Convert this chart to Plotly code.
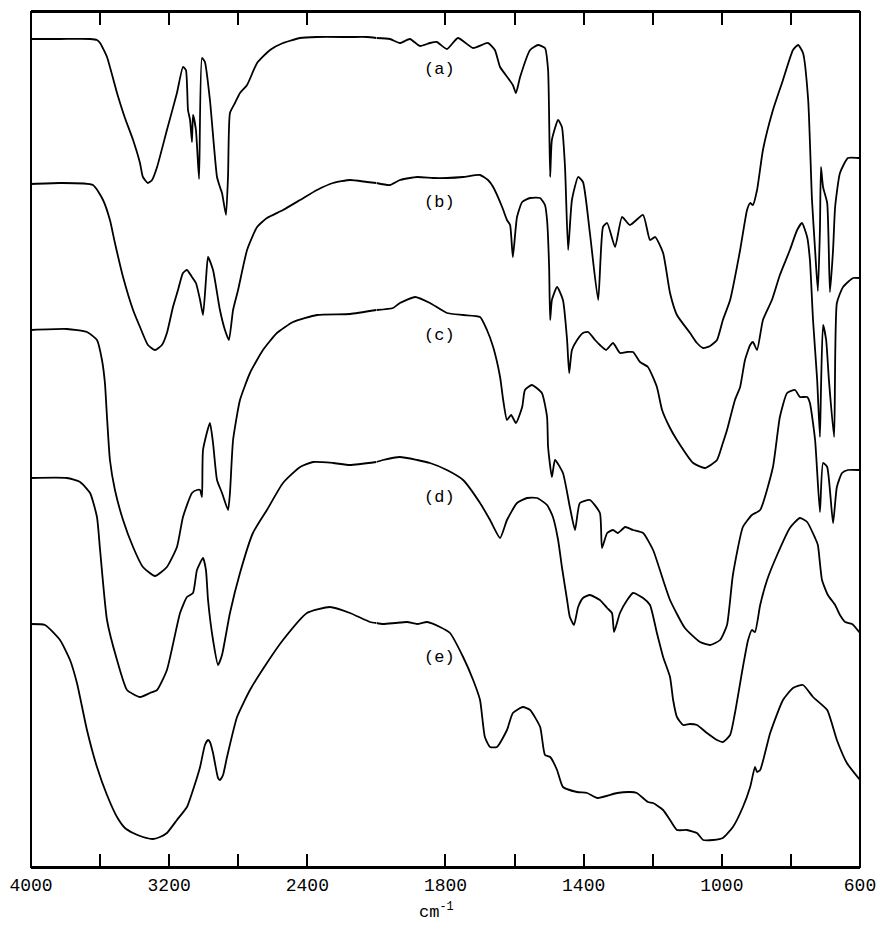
import plotly.graph_objects as go

# IR spectra (a)-(e): wavenumber (cm-1) and offset transmittance (arbitrary units)
A_WN = [4000, 3832, 3658, 3618, 3600, 3560, 3502, 3456, 3409, 3369, 3352, 3323, 3299, 3270, 3213, 3155, 3120, 3103, 3091, 3079, 3068, 3062, 3045, 3027, 3010, 2993, 2964, 2923, 2906, 2894, 2871, 2859, 2848, 2819, 2790, 2749, 2691, 2616, 2541, 2442, 2344, 2153, 2055, 2000,
        1961, 1932, 1903, 1874, 1845, 1825, 1796, 1764, 1720, 1677, 1657, 1642, 1619, 1605, 1596, 1584, 1555, 1532, 1512, 1503, 1497, 1492, 1474, 1463, 1454, 1445, 1434, 1416, 1402, 1382, 1358, 1344, 1332, 1309, 1289, 1266, 1228, 1208, 1193, 1170, 1150, 1130, 1092, 1072, 1054, 1034, 1014, 997, 976, 947, 927, 918, 910, 898, 881, 852, 823, 794, 779, 765, 750, 739, 730, 722, 716, 713, 707, 695, 687, 678, 672, 658, 635, 606, 600]
A_T = [828, 828, 828, 827, 824, 810, 774, 749, 727, 704, 690, 684, 687, 700, 737, 774, 800, 797, 757, 747, 725, 752, 737, 688, 809, 805, 767, 690, 680, 674, 652, 692, 754, 764, 774, 782, 804, 817, 824, 829, 830, 830, 830, 829,
       828, 824, 828, 821, 824, 825, 818, 829, 819, 824, 817, 800, 789, 782, 774, 790, 817, 822, 819, 797, 690, 727, 747, 740, 700, 617, 667, 690, 685, 634, 567, 640, 644, 620, 650, 642, 652, 627, 630, 614, 574, 552, 534, 524, 519, 521, 527, 547, 567, 617, 657, 664, 662, 677, 717, 757, 787, 817, 822, 814, 767, 667, 617, 576, 637, 700, 680, 664, 575, 617, 660, 694, 709, 709, 709]

B_WN = [4000, 3832, 3641, 3583, 3543, 3514, 3467, 3409, 3369, 3323, 3282, 3242, 3213, 3178, 3149, 3120, 3097, 3068, 3045, 3021, 3004, 2987, 2975, 2946, 2906, 2877, 2854, 2830, 2801, 2749, 2691, 2634, 2541, 2442, 2344, 2251, 2153, 2055, 2000,
        1961, 1932, 1882, 1836, 1796, 1749, 1700, 1677, 1662, 1636, 1622, 1613, 1605, 1593, 1578, 1555, 1526, 1512, 1506, 1500, 1497, 1492, 1477, 1460, 1448, 1442, 1434, 1419, 1402, 1387, 1367, 1353, 1335, 1315, 1295, 1274, 1257, 1237, 1214, 1188, 1173, 1150, 1130, 1083, 1049, 1014, 997, 985, 962, 947, 933, 918, 910, 898, 881, 855, 832, 803, 782, 768, 753, 745, 736, 724, 716, 713, 707, 698, 690, 675, 667, 649, 620, 600]
B_T = [683, 684, 682, 667, 647, 624, 590, 557, 540, 522, 517, 522, 534, 560, 577, 594, 597, 590, 584, 567, 552, 587, 610, 597, 557, 537, 527, 557, 577, 617, 640, 649, 657, 667, 677, 684, 687, 685, 684,
       682, 687, 690, 689, 689, 690, 692, 687, 680, 660, 647, 642, 610, 650, 665, 669, 669, 662, 647, 600, 547, 567, 580, 567, 527, 494, 517, 527, 534, 535, 527, 522, 517, 524, 514, 515, 515, 505, 500, 480, 457, 439, 427, 404, 399, 407, 424, 437, 467, 480, 507, 522, 525, 517, 547, 567, 592, 617, 637, 644, 630, 607, 547, 487, 430, 477, 542, 527, 487, 430, 564, 580, 589, 589]

C_WN = [4000, 3792, 3676, 3618, 3589, 3572, 3560, 3543, 3514, 3467, 3409, 3352, 3282, 3213, 3155, 3120, 3068, 3039, 3021, 3010, 3004, 2964, 2946, 2923, 2894, 2859, 2848, 2830, 2790, 2732, 2657, 2576, 2483, 2344, 2153, 2000,
        1952, 1932, 1888, 1845, 1796, 1749, 1700, 1680, 1662, 1642, 1633, 1622, 1610, 1596, 1578, 1570, 1550, 1521, 1506, 1503, 1492, 1483, 1460, 1440, 1425, 1411, 1382, 1353, 1347, 1332, 1315, 1301, 1280, 1257, 1228, 1199, 1170, 1150, 1107, 1063, 1034, 1005, 985, 968, 939, 913, 889, 852, 832, 811, 788, 774, 753, 745, 730, 716, 707, 695, 678, 667, 652, 635, 600]
C_T = [537, 538, 535, 527, 507, 484, 450, 407, 377, 347, 320, 300, 291, 300, 320, 350, 374, 377, 377, 370, 417, 444, 424, 387, 374, 357, 374, 427, 467, 494, 517, 534, 545, 552, 553, 557,
       559, 564, 570, 564, 554, 552, 550, 537, 520, 490, 467, 447, 452, 444, 460, 477, 482, 474, 450, 420, 390, 407, 394, 360, 337, 364, 367, 354, 319, 334, 337, 334, 340, 337, 334, 317, 287, 267, 239, 225, 222, 227, 242, 292, 340, 352, 357, 400, 450, 474, 477, 470, 470, 464, 427, 355, 404, 400, 344, 380, 394, 397, 397]

D_WN = [4000, 3792, 3716, 3658, 3618, 3600, 3560, 3502, 3444, 3369, 3311, 3270, 3213, 3137, 3097, 3062, 3039, 3004, 2987, 2975, 2946, 2917, 2894, 2848, 2790, 2715, 2634, 2541, 2442, 2367, 2251, 2153, 2000,
        1981, 1932, 1882, 1845, 1796, 1749, 1700, 1671, 1642, 1622, 1593, 1564, 1535, 1506, 1489, 1474, 1463, 1448, 1440, 1428, 1416, 1402, 1382, 1353, 1332, 1318, 1312, 1295, 1274, 1257, 1228, 1208, 1188, 1170, 1150, 1141, 1130, 1112, 1092, 1072, 1043, 1014, 997, 976, 962, 939, 924, 913, 904, 889, 869, 840, 803, 774, 753, 730, 722, 710, 693, 672, 658, 643, 623, 600]
D_T = [389, 389, 385, 374, 350, 317, 247, 207, 177, 170, 174, 177, 197, 254, 270, 274, 297, 309, 297, 267, 227, 202, 212, 254, 294, 334, 357, 384, 400, 405, 404, 402, 405,
       407, 410, 407, 404, 397, 387, 364, 347, 329, 347, 364, 369, 369, 362, 350, 327, 300, 267, 250, 242, 260, 269, 272, 267, 259, 254, 235, 254, 267, 274, 269, 262, 234, 210, 190, 167, 150, 142, 143, 142, 134, 127, 125, 132, 154, 200, 227, 237, 235, 262, 287, 312, 339, 349, 345, 329, 322, 287, 272, 262, 252, 245, 243, 234]

E_WN = [4000, 3919, 3832, 3774, 3734, 3676, 3618, 3560, 3502, 3456, 3409, 3352, 3294, 3253, 3213, 3155, 3097, 3062, 3021, 2993, 2975, 2964, 2946, 2917, 2906, 2888, 2865, 2807, 2732, 2634, 2541, 2402, 2269, 2153, 2037, 2000,
        1981, 1946, 1911, 1882, 1853, 1816, 1787, 1749, 1720, 1700, 1686, 1671, 1651, 1622, 1605, 1576, 1555, 1526, 1512, 1497, 1477, 1460, 1419, 1390, 1361, 1303, 1266, 1246, 1214, 1199, 1170, 1150, 1130, 1101, 1072, 1054, 1025, 997, 968, 939, 918, 904, 898, 889, 860, 823, 794, 765, 736, 695, 667, 638, 600]
E_T = [243, 242, 227, 207, 184, 137, 100, 72, 50, 39, 34, 30, 28, 30, 34, 47, 60, 77, 100, 122, 127, 125, 114, 89, 87, 92, 110, 150, 177, 204, 227, 254, 260, 254, 245, 244,
       243, 244, 245, 243, 245, 240, 234, 210, 187, 167, 130, 120, 120, 137, 154, 160, 157, 140, 112, 110, 97, 80, 75, 74, 69, 74, 75, 74, 65, 64, 57, 47, 37, 37, 34, 27, 27, 29, 40, 60, 80, 100, 95, 97, 134, 167, 179, 182, 170, 157, 127, 104, 87]

LABELS = ["(a)", "(b)", "(c)", "(d)", "(e)"]
LABEL_T = [798, 665, 532, 370, 210]
LABEL_WN = 1816

HI_TICKS = [4000, 3200, 2400]
HI_MINOR = [3600, 2800, 2000]
LO_TICKS = [1800, 1400, 1000, 600]
LO_MINOR = [1600, 1200, 800]

SERIES = [(A_WN, A_T), (B_WN, B_T), (C_WN, C_T), (D_WN, D_T), (E_WN, E_T)]

line_style = dict(color="black", width=1.8, shape="spline", smoothing=0.5)

fig = go.Figure()
for wn, t in SERIES:
    hx = [w for w in wn if w >= 2000]
    hy = [v for w, v in zip(wn, t) if w >= 2000]
    lx = [w for w in wn if w <= 2000]
    ly = [v for w, v in zip(wn, t) if w <= 2000]
    fig.add_trace(go.Scatter(x=hx, y=hy, mode="lines", xaxis="x", yaxis="y",
                             line=line_style, showlegend=False, hoverinfo="skip"))
    fig.add_trace(go.Scatter(x=lx, y=ly, mode="lines", xaxis="x2", yaxis="y",
                             line=line_style, showlegend=False, hoverinfo="skip"))

for lab, yv in zip(LABELS, LABEL_T):
    fig.add_annotation(x=LABEL_WN, y=yv, xref="x2", yref="y", text=lab, showarrow=False,
                       font=dict(family="Liberation Mono", size=17, color="black"))

tickfont = dict(family="Liberation Mono", size=18, color="black")
common = dict(ticks="inside", ticklen=13, tickwidth=2, tickcolor="black", showgrid=False,
              zeroline=False, showline=True, linecolor="black", linewidth=2, mirror="ticks",
              tickfont=tickfont, anchor="y", automargin=False)

fig.update_layout(
    width=877, height=925,
    margin=dict(l=31, r=17, t=12, b=58, autoexpand=False),
    paper_bgcolor="white", plot_bgcolor="white",
    xaxis=dict(domain=[0, 5 / 12], range=[4000, 2000], tickvals=HI_TICKS,
               minor=dict(tickvals=HI_MINOR, ticks="inside", ticklen=13, tickwidth=2, tickcolor="black", showgrid=False),
               **common),
    xaxis2=dict(domain=[5 / 12, 1], range=[2000, 600], tickvals=LO_TICKS,
                minor=dict(tickvals=LO_MINOR, ticks="inside", ticklen=13, tickwidth=2, tickcolor="black", showgrid=False),
                **common),
    yaxis=dict(range=[0, 855], showticklabels=False, showgrid=False, zeroline=False, ticks="",
               showline=False, automargin=False),
    shapes=[dict(type="rect", xref="paper", yref="paper", x0=0, x1=1, y0=0, y1=1,
                 line=dict(color="black", width=2))],
)
fig.add_annotation(x=0.489, y=-0.051, xref="paper", yref="paper", yanchor="middle", showarrow=False,
                   text="cm<sup>-1</sup>", font=dict(family="Liberation Mono", size=17, color="black"))

fig.write_html("out.html")
